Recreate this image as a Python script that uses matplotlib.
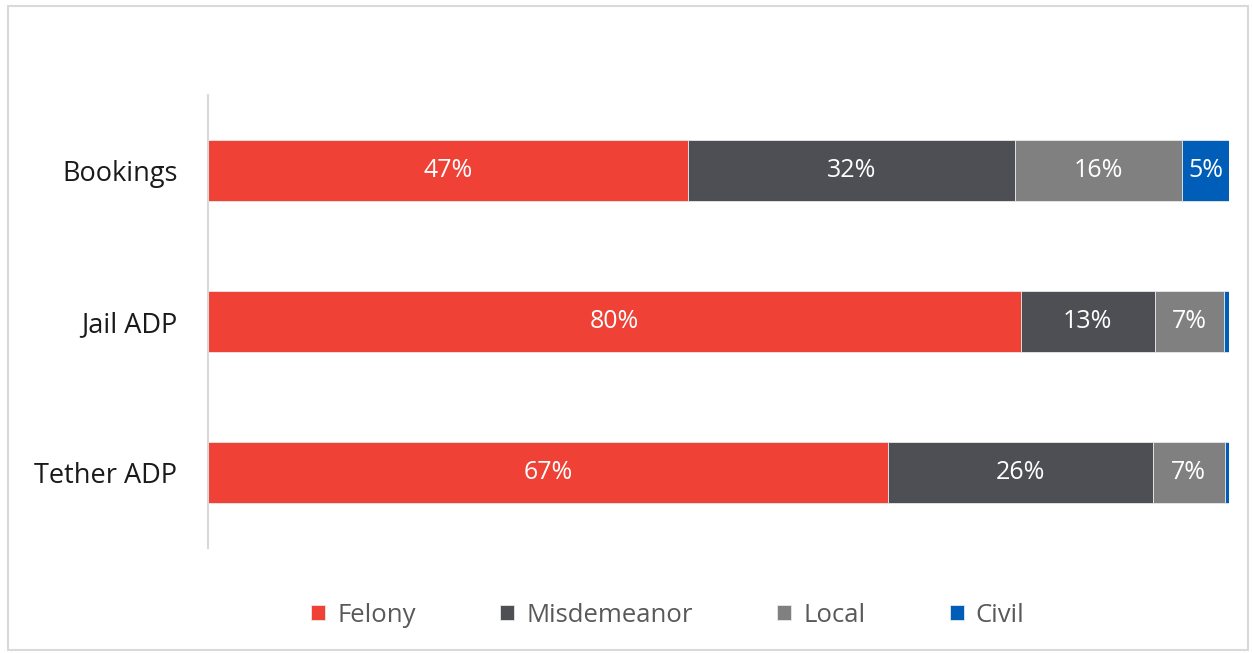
import matplotlib.pyplot as plt
from matplotlib.patches import Rectangle

plt.rcParams['font.family'] = ['Open Sans', 'DejaVu Sans']

categories = ['Bookings', 'Jail ADP', 'Tether ADP']
series = ['Felony', 'Misdemeanor', 'Local', 'Civil']
felony = [47.0, 79.6, 66.6]
misdemeanor = [32.0, 13.1, 25.9]
local = [16.4, 6.8, 7.1]
civil = [4.6, 0.5, 0.4]
colors = ['#EF4136', '#4D4F54', '#808080', '#005EB8']

fig = plt.figure(figsize=(12.53, 6.53), dpi=100)
ax = fig.add_axes([0.166, 0.161, 0.815, 0.6935])

# light frame around the whole chart
fig.patches.append(Rectangle((0.006, 0.004), 0.99, 0.987, transform=fig.transFigure,
                             fill=False, edgecolor='#D9D9D9', linewidth=1.5))

y = list(range(len(categories)))
left = [0, 0, 0]
for name, vals, col in zip(series, [felony, misdemeanor, local, civil], colors):
    bars = ax.barh(y, vals, left=left, height=0.4, color=col, label=name,
                   edgecolor='#E8E8E8', linewidth=0.6)
    for b, v in zip(bars, vals):
        if v >= 3:
            ax.text(b.get_x() + b.get_width() / 2, b.get_y() + b.get_height() / 2,
                    '%d%%' % round(v), ha='center', va='center', color='white',
                    fontsize=18)
    left = [l + v for l, v in zip(left, vals)]

ax.set_xlim(0, 100)
ax.set_ylim(2.5, -0.5)
ax.set_yticks(y)
ax.set_yticklabels(categories, fontsize=19.5, color='#1a1a1a')
ax.tick_params(axis='y', length=0, pad=22)
ax.set_xticks([])
for s in ['top', 'right', 'bottom']:
    ax.spines[s].set_visible(False)
ax.spines['left'].set_color('#D9D9D9')
ax.spines['left'].set_linewidth(1.5)

leg = fig.legend(loc='center', bbox_to_anchor=(0.533, 0.058), ncol=4, frameon=False,
                 fontsize=18.5, handlelength=0.55, handleheight=0.55, columnspacing=3.3,
                 handletextpad=0.45)
for t in leg.get_texts():
    t.set_color('#595959')

fig.savefig('out.png', dpi=100)
